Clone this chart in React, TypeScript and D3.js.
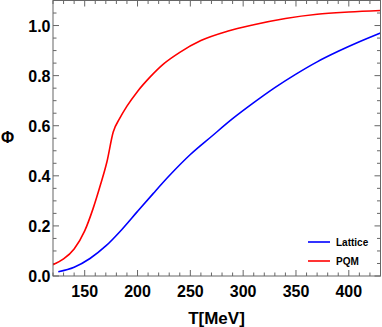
import React from 'react'
import * as d3 from 'd3'

// Lattice curve (T in MeV, Phi)
const latticeT = [125, 140, 155, 170, 185, 200, 215, 230, 250, 270, 290, 310, 330, 350, 370, 390, 410, 430]
const latticePhi = [0.017, 0.035, 0.07, 0.12, 0.185, 0.258, 0.33, 0.4, 0.485, 0.557, 0.628, 0.692, 0.752, 0.806, 0.855, 0.897, 0.935, 0.97]

// PQM model curve
const pqmT = [120, 130, 140, 150, 158, 165, 171, 177, 183, 190, 200, 212, 225, 240, 260, 285, 310, 340, 370, 400, 430]
const pqmPhi = [0.045, 0.068, 0.108, 0.18, 0.27, 0.365, 0.455, 0.575, 0.628, 0.678, 0.737, 0.795, 0.848, 0.893, 0.94, 0.977, 1.003, 1.028, 1.045, 1.054, 1.06]

const xTicks = [150, 200, 250, 300, 350, 400]
const yTicks = [0, 0.2, 0.4, 0.6, 0.8, 1.0]

const left = 53, right = 380.5, top = 0.5, bottom = 276

export default function App() {
  const x = d3.scaleLinear().domain([120, 430]).range([left, right])
  const y = d3.scaleLinear().domain([0, 1.1]).range([bottom, top])

  const line = d3.line<[number, number]>()
    .x(d => x(d[0]))
    .y(d => y(d[1]))
    .curve(d3.curveMonotoneX)

  const lattice = line(latticeT.map((t, i) => [t, latticePhi[i]]))
  const pqm = line(pqmT.map((t, i) => [t, pqmPhi[i]]))

  const xMinor = d3.range(120, 431, 10)
  const yMinor = d3.range(0, 1.1001, 0.05)
  const axisColor = '#666'
  const font = 'Liberation Sans, Arial, sans-serif'

  return (
    <svg width={382} height={327} style={{ position: 'absolute', left: 0, top: 0 }} fontFamily={font}>
      <defs>
        <clipPath id="plot">
          <rect x={left} y={top} width={right - left} height={bottom - top} />
        </clipPath>
      </defs>
      <rect width={382} height={327} fill="white" />

      {/* ticks, inward on all four sides */}
      {xMinor.map(t => {
        const len = t % 50 === 0 ? 6 : 3.5
        return (
          <g key={'x' + t} stroke={axisColor} strokeWidth={1}>
            <line x1={x(t)} x2={x(t)} y1={bottom} y2={bottom - len} />
            <line x1={x(t)} x2={x(t)} y1={top} y2={top + len} />
          </g>
        )
      })}
      {yMinor.map(v => {
        const major = Math.abs(v * 5 - Math.round(v * 5)) < 1e-6
        const len = major ? 6 : 3.5
        return (
          <g key={'y' + v.toFixed(2)} stroke={axisColor} strokeWidth={1}>
            <line x1={left} x2={left + len} y1={y(v)} y2={y(v)} />
            <line x1={right} x2={right - len} y1={y(v)} y2={y(v)} />
          </g>
        )
      })}

      <g clipPath="url(#plot)" fill="none" strokeWidth={1.6}>
        <path d={lattice ?? ''} stroke="#0000ff" />
        <path d={pqm ?? ''} stroke="#ff0000" />
      </g>

      <rect x={left} y={top} width={right - left} height={bottom - top} fill="none" stroke={axisColor} strokeWidth={1} />

      {xTicks.map(t => (
        <text key={'xl' + t} x={x(t)} y={297} textAnchor="middle" fontSize={16} fontWeight="bold">{t}</text>
      ))}
      {yTicks.map(v => (
        <text key={'yl' + v} x={50.5} y={y(v) + 6} textAnchor="end" fontSize={16} fontWeight="bold">{v.toFixed(1)}</text>
      ))}

      <text x={216.5} y={324} textAnchor="middle" fontSize={17} fontWeight="bold">T[MeV]</text>
      <text x={7.5} y={143} textAnchor="middle" fontSize={16} fontWeight="bold">Φ</text>

      {/* legend */}
      <line x1={308} x2={330} y1={242} y2={242} stroke="#0000ff" strokeWidth={1.6} />
      <text x={336} y={245.5} fontSize={10} fontWeight="bold">Lattice</text>
      <line x1={308} x2={330} y1={261} y2={261} stroke="#ff0000" strokeWidth={1.6} />
      <text x={336} y={264.5} fontSize={10} fontWeight="bold">PQM</text>
    </svg>
  )
}
